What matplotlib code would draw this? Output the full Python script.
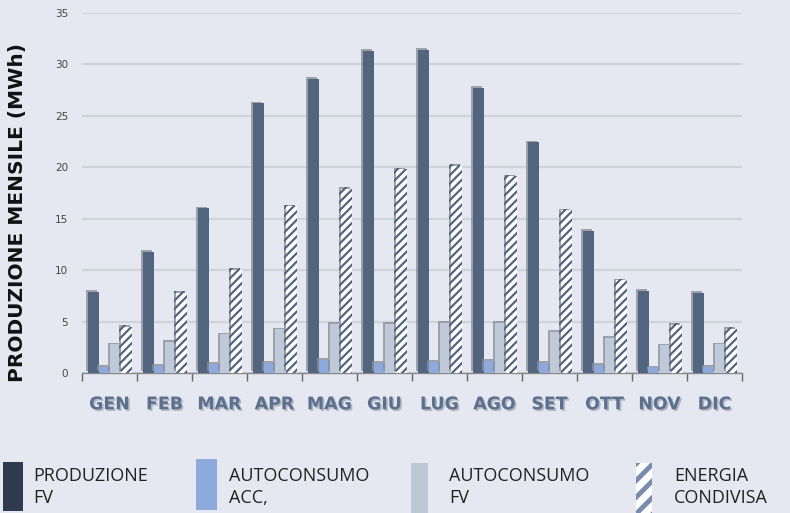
import matplotlib
matplotlib.use("Agg")
import matplotlib.pyplot as plt
import matplotlib.patheffects as pe
from matplotlib.patches import Rectangle
import numpy as np

months = ["GEN", "FEB", "MAR", "APR", "MAG", "GIU", "LUG", "AGO", "SET", "OTT", "NOV", "DIC"]
produzione_fv = [7.9, 11.8, 16.0, 26.2, 28.6, 31.3, 31.4, 27.7, 22.4, 13.8, 8.0, 7.8]
autoconsumo_acc = [0.6, 0.7, 0.9, 1.0, 1.3, 1.0, 1.1, 1.2, 1.0, 0.8, 0.55, 0.6]
autoconsumo_fv = [2.8, 3.0, 3.75, 4.25, 4.8, 4.8, 4.9, 4.9, 4.0, 3.4, 2.7, 2.8]
energia_condivisa = [4.5, 7.8, 10.0, 16.2, 17.9, 19.8, 20.1, 19.1, 15.8, 9.0, 4.7, 4.3]
legend_labels = ["PRODUZIONE\nFV", "AUTOCONSUMO\nACC,", "AUTOCONSUMO\nFV", "ENERGIA\nCONDIVISA"]
y_ticks = [0, 5, 10, 15, 20, 25, 30, 35]

BG = "#e5e8f0"
C_PROD = "#52657f"
C_ACC = "#8eaadc"
C_FV = "#c0c9d8"
C_HATCH = "#52657f"

plt.rcParams["hatch.linewidth"] = 1.6

W, H = 790, 513
fig = plt.figure(figsize=(W / 100, H / 100), dpi=100, facecolor=BG)
ax = fig.add_axes([82 / W, (H - 373) / H, 660 / W, (373 - 12.7) / H])
ax.set_facecolor(BG)

x = np.arange(len(months))
bw = 0.2
shadow = [pe.SimplePatchShadow(offset=(-1.2, 1.2), shadow_rgbFace="#8a8f99", alpha=0.8), pe.Normal()]

series = [produzione_fv, autoconsumo_acc, autoconsumo_fv, energia_condivisa]
for i, vals in enumerate(series):
    pos = x - 0.3 + i * bw
    if i < 3:
        col = [C_PROD, C_ACC, C_FV][i]
        bars = ax.bar(pos, vals, bw, color=col, linewidth=0, zorder=3)
    else:
        bars = ax.bar(pos, vals, bw, facecolor="white", edgecolor=C_HATCH, hatch="////", linewidth=0, zorder=3)
    for b in bars:
        b.set_path_effects(shadow)

ax.set_xlim(-0.5, len(months) - 0.5)
ax.set_ylim(0, 35)
ax.set_yticks(y_ticks)
ax.set_yticklabels([str(t) for t in y_ticks], fontsize=7.5, color="#444444")
ax.tick_params(axis="y", length=0, pad=10)
ax.grid(axis="y", color="#cfd3da", linewidth=1.6, zorder=0)
ax.set_axisbelow(True)

ax.set_xticks(x)
ax.set_xticklabels(months, fontsize=12.5, fontweight="bold", color="#5b6f8e")
for lbl in ax.get_xticklabels():
    lbl.set_path_effects([pe.withSimplePatchShadow(offset=(1.2, -1.2), shadow_rgbFace="#9aa0aa", alpha=0.7)])
ax.tick_params(axis="x", which="major", length=0, pad=16)
ax.set_xticks(np.arange(-0.5, len(months), 1.0), minor=True)
ax.tick_params(axis="x", which="minor", length=6, color="#666666", width=1, direction="out")

for s in ["top", "right", "left"]:
    ax.spines[s].set_visible(False)
ax.spines["bottom"].set_color("#888888")
ax.spines["bottom"].set_linewidth(1.0)

fig.text(18 / W, 1 - 212 / H, "PRODUZIONE MENSILE (MWh)", rotation=90, ha="center", va="center",
         fontsize=14.5, fontweight="bold", color="#111111")

# Legend (manual)
legend_fonts = dict(fontsize=13, family="Open Sans", color="#222222", linespacing=1.25)
patches = [
    (3, 462, 20, 49, dict(facecolor="#2e3a4d")),
    (196, 459, 21, 51, dict(facecolor="#8eaadc")),
    (411, 463, 17, 50, dict(facecolor="#bec7d5")),
    (636, 463, 16, 50, dict(facecolor="white", edgecolor="#7a8cae", hatch="//")),
]
text_x = [33, 229, 449, 674]
for (px, py, pw, ph, kw), tx, lab in zip(patches, text_x, legend_labels):
    r = Rectangle((px / W, 1 - (py + ph) / H), pw / W, ph / H, transform=fig.transFigure,
                  linewidth=0, **kw)
    if "hatch" in kw:
        try:
            r.set_hatch_linewidth(3.5)
        except Exception:
            pass
    fig.patches.append(r)
    fig.text(tx / W, 1 - 487 / H, lab, ha="left", va="center", **legend_fonts)

fig.savefig("out.png", dpi=100, facecolor=BG)
